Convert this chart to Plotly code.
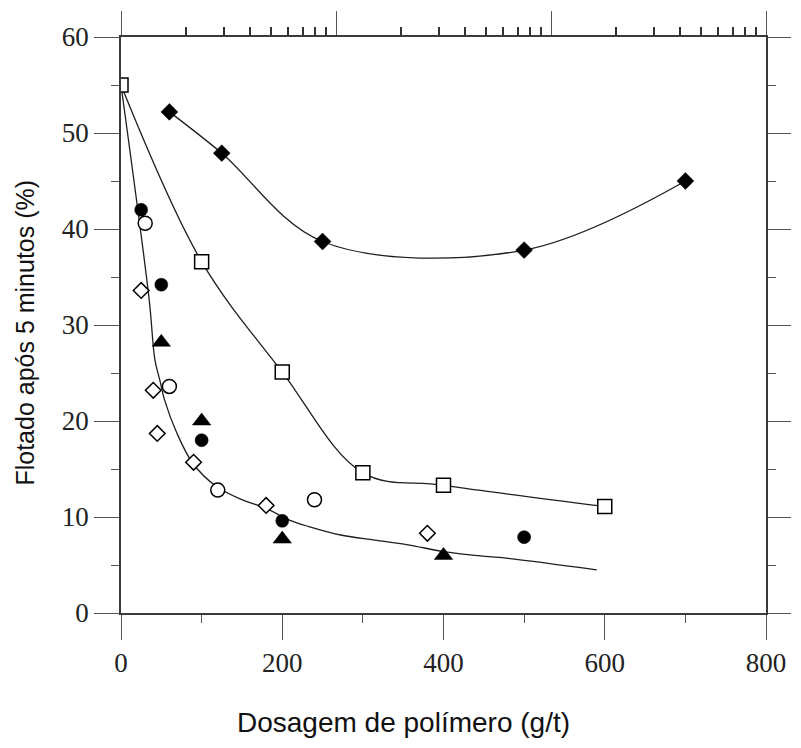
import plotly.graph_objects as go

# ---------------- data ----------------
# filled diamonds with fitted curve
dia_f_x = [60, 125, 250, 500, 700]
dia_f_y = [52.2, 47.9, 38.7, 37.8, 45.0]

# open squares with fitted curve
sq_x = [0, 100, 200, 300, 400, 600]
sq_y = [55.0, 36.6, 25.1, 14.6, 13.3, 11.1]

# fitted curve for the lower group of points (traced)
low_curve_x = [0, 35, 42, 48, 54, 69, 89, 118, 150, 180, 208, 233, 274, 315, 356, 400, 439, 480, 590]
low_curve_y = [55.0, 32.6, 26.4, 24.3, 22.2, 18.8, 15.6, 13.2, 11.8, 10.9, 9.7, 9.0, 8.1, 7.6, 7.1, 6.4, 6.0, 5.7, 4.5]

# filled circles
circ_f_x = [25, 50, 100, 200, 500]
circ_f_y = [42.0, 34.2, 18.0, 9.6, 7.9]

# open circles
circ_o_x = [30, 60, 120, 240]
circ_o_y = [40.6, 23.6, 12.8, 11.8]

# filled triangles
tri_x = [50, 100, 200, 400]
tri_y = [28.2, 20.0, 7.7, 6.0]

# open diamonds
dia_o_x = [25, 40, 45, 90, 180, 380]
dia_o_y = [33.6, 23.2, 18.7, 15.7, 11.2, 8.3]

x_ticks = [0, 200, 400, 600, 800]
y_ticks = [0, 10, 20, 30, 40, 50, 60]
x_title = "Dosagem de polímero (g/t)"
y_title = "Flotado após 5 minutos (%)"

# ---------------- figure ----------------
LINE_C = "#1e1e1e"
AX_C = "#3a3a3a"
TICK_FONT = dict(family="Liberation Serif", size=27, color="#222")

fig = go.Figure()

def curve(x, y):
    fig.add_trace(go.Scatter(x=x, y=y, mode="lines",
                             line=dict(color=LINE_C, width=1.3, shape="spline", smoothing=1.0),
                             showlegend=False, hoverinfo="skip"))

curve(dia_f_x, dia_f_y)
curve(sq_x, sq_y)
curve(low_curve_x, low_curve_y)

def pts(x, y, symbol, size, filled):
    fig.add_trace(go.Scatter(
        x=x, y=y, mode="markers", showlegend=False,
        marker=dict(symbol=symbol, size=size,
                    color="black" if filled else "white",
                    line=dict(color="black", width=1.5 if not filled else 0.5))))

pts(sq_x, sq_y, "square", 14, False)
pts(dia_f_x, dia_f_y, "diamond", 13, True)
pts(circ_f_x, circ_f_y, "circle", 13, True)
pts(circ_o_x, circ_o_y, "circle", 14, False)
pts(tri_x, tri_y, "triangle-up", 16, True)
pts(dia_o_x, dia_o_y, "diamond", 12, False)

# dummy trace so the top log axis / right axis subplot exists
fig.add_trace(go.Scatter(x=[10], y=[None], xaxis="x2", yaxis="y2",
                         mode="markers", showlegend=False, hoverinfo="skip"))

axis_common = dict(showgrid=False, zeroline=False, showline=True,
                   linecolor=AX_C, linewidth=1.6,
                   ticks="outside", ticklen=25, tickwidth=1.2, tickcolor="#555")

fig.update_layout(
    width=801, height=748,
    margin=dict(l=121, r=31, t=37, b=135),
    paper_bgcolor="white", plot_bgcolor="white",
    xaxis=dict(range=[0, 800], tickvals=x_ticks, tickfont=TICK_FONT,
               minor=dict(tickvals=[100, 300, 500, 700], ticklen=8, ticks="outside",
                          tickcolor="#555", tickwidth=1.2),
               **axis_common),
    yaxis=dict(range=[0, 60], tickvals=y_ticks, tickfont=TICK_FONT,
               minor=dict(tickvals=[5, 15, 25, 35, 45, 55], ticklen=8, ticks="outside",
                          tickcolor="#555", tickwidth=1.2),
               **axis_common),
    xaxis2=dict(type="log", range=[0, 3], overlaying="x", side="top", anchor="y2",
                tickvals=[1, 10, 100, 1000], showticklabels=False,
                minor=dict(tickvals=[2, 3, 4, 5, 6, 7, 8, 9,
                                     20, 30, 40, 50, 60, 70, 80, 90,
                                     200, 300, 400, 500, 600, 700, 800, 900],
                           ticklen=8, ticks="outside", tickcolor="#333", tickwidth=1.5),
                **{**axis_common, "ticklen": 24}),
    yaxis2=dict(range=[0, 60], overlaying="y", side="right", anchor="x2",
                tickvals=y_ticks, showticklabels=False,
                minor=dict(tickvals=[5, 15, 25, 35, 45, 55], ticklen=8, ticks="outside",
                           tickcolor="#555", tickwidth=1.2),
                **{**axis_common, "ticklen": 23}),
    annotations=[
        dict(text=x_title, xref="paper", yref="paper", x=(405 - 121) / 649,
             y=(613 - 722) / 576, xanchor="center", yanchor="middle", showarrow=False,
             font=dict(family="Liberation Sans", size=28, color="#111")),
        dict(text=y_title, xref="paper", yref="paper", x=(24 - 121) / 649,
             y=(613 - 333) / 576, xanchor="center", yanchor="middle", showarrow=False,
             textangle=-90, font=dict(family="Liberation Sans", size=25, color="#111")),
    ],
)

fig.write_html("out.html")
